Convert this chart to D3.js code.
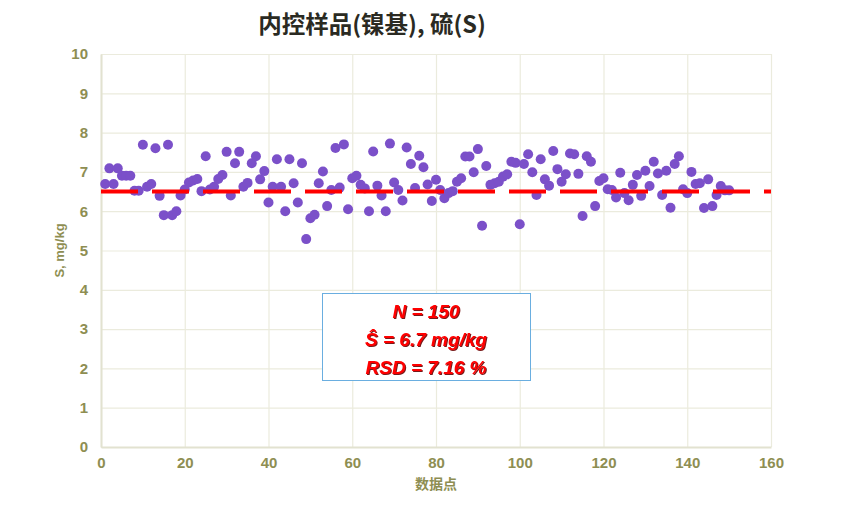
<!DOCTYPE html>
<html>
<head>
<meta charset="utf-8">
<script src="https://cdn.jsdelivr.net/npm/d3@7"></script>
<style>
    body { margin: 0; background: #fff; }
    .tick text { font-family: "Liberation Sans Narrow", "Arial Narrow", "Liberation Sans", sans-serif; font-weight: bold; fill: #8e8e52; }
</style>
</head>
<body>
<script>
    // 数据：内控样品(镍基) 硫(S) 150 个测定值
    const values = [
        6.69, 7.09, 6.69, 7.09, 6.90, 6.90, 6.90, 6.52, 6.52, 7.69,
        6.62, 6.69, 7.60, 6.39, 5.90, 7.69, 5.90, 6.00, 6.40, 6.55,
        6.73, 6.78, 6.82, 6.51, 7.40, 6.55, 6.62, 6.82, 6.92, 7.51,
        6.40, 7.22, 7.51, 6.62, 6.72, 7.22, 7.40, 6.81, 7.02, 6.22,
        6.62, 7.32, 6.62, 6.00, 7.32, 6.71, 6.22, 7.22, 5.29, 5.82,
        5.91, 6.71, 7.01, 6.13, 6.54, 7.61, 6.60, 7.70, 6.05, 6.84,
        6.90, 6.67, 6.58, 6.00, 7.52, 6.65, 6.40, 6.00, 7.72, 6.73,
        6.54, 6.27, 7.62, 7.20, 6.59, 7.41, 7.12, 6.68, 6.26, 6.80,
        6.54, 6.33, 6.46, 6.51, 6.75, 6.84, 7.39, 7.39, 6.99, 7.58,
        5.63, 7.15, 6.67, 6.71, 6.75, 6.88, 6.94, 7.26, 7.23, 5.67,
        7.20, 7.45, 6.99, 6.41, 7.32, 6.81, 6.65, 7.53, 7.07, 6.75,
        6.94, 7.47, 7.45, 6.95, 5.88, 7.40, 7.26, 6.13, 6.77, 6.84,
        6.56, 6.54, 6.35, 6.98, 6.46, 6.28, 6.67, 6.92, 6.39, 7.03,
        6.64, 7.26, 6.96, 6.41, 7.03, 6.09, 7.20, 7.40, 6.56, 6.46,
        7.00, 6.69, 6.71, 6.08, 6.81, 6.13, 6.41, 6.64, 6.53, 6.53
    ];
    const refValue = 6.5;
    const xTicks = [0, 20, 40, 60, 80, 100, 120, 140, 160];
    const yTicks = [0, 1, 2, 3, 4, 5, 6, 7, 8, 9, 10];
    const statLines = ["N = 150", "Ŝ = 6.7 mg/kg", "RSD = 7.16 %"];

    const points = values.map((v, i) => ({ n: i + 1, v: v }));

    const width = 842;
    const height = 513;
    const svg = d3.select("body").append("svg")
        .attr("width", width)
        .attr("height", height)
        .attr("viewBox", [0, 0, width, height]);

    const x = d3.scaleLinear().domain([0, 160]).range([101, 771]);
    const y = d3.scaleLinear().domain([0, 10]).range([447, 54]);

    // 网格
    svg.append("g")
        .attr("transform", `translate(0,${y(0)})`)
        .call(d3.axisBottom(x).tickValues(xTicks).tickSize(-(y(0) - y(10))).tickFormat(""))
        .call(g => g.select(".domain").remove())
        .call(g => g.selectAll("line").attr("stroke", "#ebebdd").attr("stroke-width", 1.2));
    svg.append("g")
        .attr("transform", `translate(${x(0)},0)`)
        .call(d3.axisLeft(y).tickValues(yTicks).tickSize(-(x(160) - x(0))).tickFormat(""))
        .call(g => g.select(".domain").remove())
        .call(g => g.selectAll("line").attr("stroke", "#ebebdd").attr("stroke-width", 1.2));

    // 坐标轴
    const xAxis = svg.append("g")
        .attr("transform", `translate(0,${y(0)})`)
        .call(d3.axisBottom(x).tickValues(xTicks).tickSize(0).tickPadding(10))
        .call(g => g.select(".domain").attr("stroke", "#e2e2d0").attr("stroke-width", 2));
    xAxis.selectAll("text").attr("font-size", 15);

    const yAxis = svg.append("g")
        .attr("transform", `translate(${x(0)},0)`)
        .call(d3.axisLeft(y).tickValues(yTicks).tickSize(0).tickPadding(13))
        .call(g => g.select(".domain").attr("stroke", "#e2e2d0").attr("stroke-width", 2));
    yAxis.selectAll("text").attr("font-size", 15);

    // 数据点
    svg.append("g")
        .attr("fill", "#7b50c9")
        .selectAll("circle")
        .data(points)
        .join("circle")
        .attr("cx", d => x(d.n))
        .attr("cy", d => y(d.v))
        .attr("r", 5);

    // 参考线
    svg.append("line")
        .attr("x1", x(0)).attr("x2", x(160))
        .attr("y1", y(refValue)).attr("y2", y(refValue))
        .attr("stroke", "#ff0000")
        .attr("stroke-width", 4)
        .attr("stroke-dasharray", "37 14");

    // 标题
    svg.append("text")
        .attr("x", 372).attr("y", 33)
        .attr("text-anchor", "middle")
        .attr("font-family", "'Noto Sans CJK SC', sans-serif")
        .attr("font-weight", "bold")
        .attr("font-size", 23.5)
        .attr("fill", "#2a2a22")
        .text("内控样品(镍基), 硫(S)");

    svg.append("text")
        .attr("x", 436).attr("y", 489)
        .attr("text-anchor", "middle")
        .attr("font-family", "'Noto Sans CJK SC', sans-serif")
        .attr("font-weight", "bold")
        .attr("font-size", 14)
        .attr("fill", "#8e8e52")
        .text("数据点");

    svg.append("text")
        .attr("transform", `translate(64,${y(5)}) rotate(-90)`)
        .attr("text-anchor", "middle")
        .attr("font-family", "'Liberation Sans', Arial, sans-serif")
        .attr("font-weight", "bold")
        .attr("font-size", 13)
        .attr("fill", "#8e8e52")
        .text("S, mg/kg");

    // 统计框
    const defs = svg.append("defs");
    const f = defs.append("filter").attr("id", "sh").attr("x", "-10%").attr("y", "-20%").attr("width", "130%").attr("height", "150%");
    f.append("feDropShadow").attr("dx", 1).attr("dy", 1).attr("stdDeviation", 0.7).attr("flood-color", "#6a0000").attr("flood-opacity", 0.9);

    svg.append("rect")
        .attr("x", 322.5).attr("y", 293.5)
        .attr("width", 208).attr("height", 87)
        .attr("fill", "#fff")
        .attr("stroke", "#6aaee0")
        .attr("stroke-width", 1);

    svg.append("g")
        .selectAll("text")
        .data(statLines)
        .join("text")
        .attr("x", 426)
        .attr("y", (d, i) => 318 + i * 28)
        .attr("text-anchor", "middle")
        .attr("font-family", "'Liberation Sans', Arial, sans-serif")
        .attr("font-weight", "bold")
        .attr("font-style", "italic")
        .attr("font-size", 19)
        .attr("fill", "#ff0000")
        .attr("filter", "url(#sh)")
        .text(d => d);
</script>
</body>
</html>
